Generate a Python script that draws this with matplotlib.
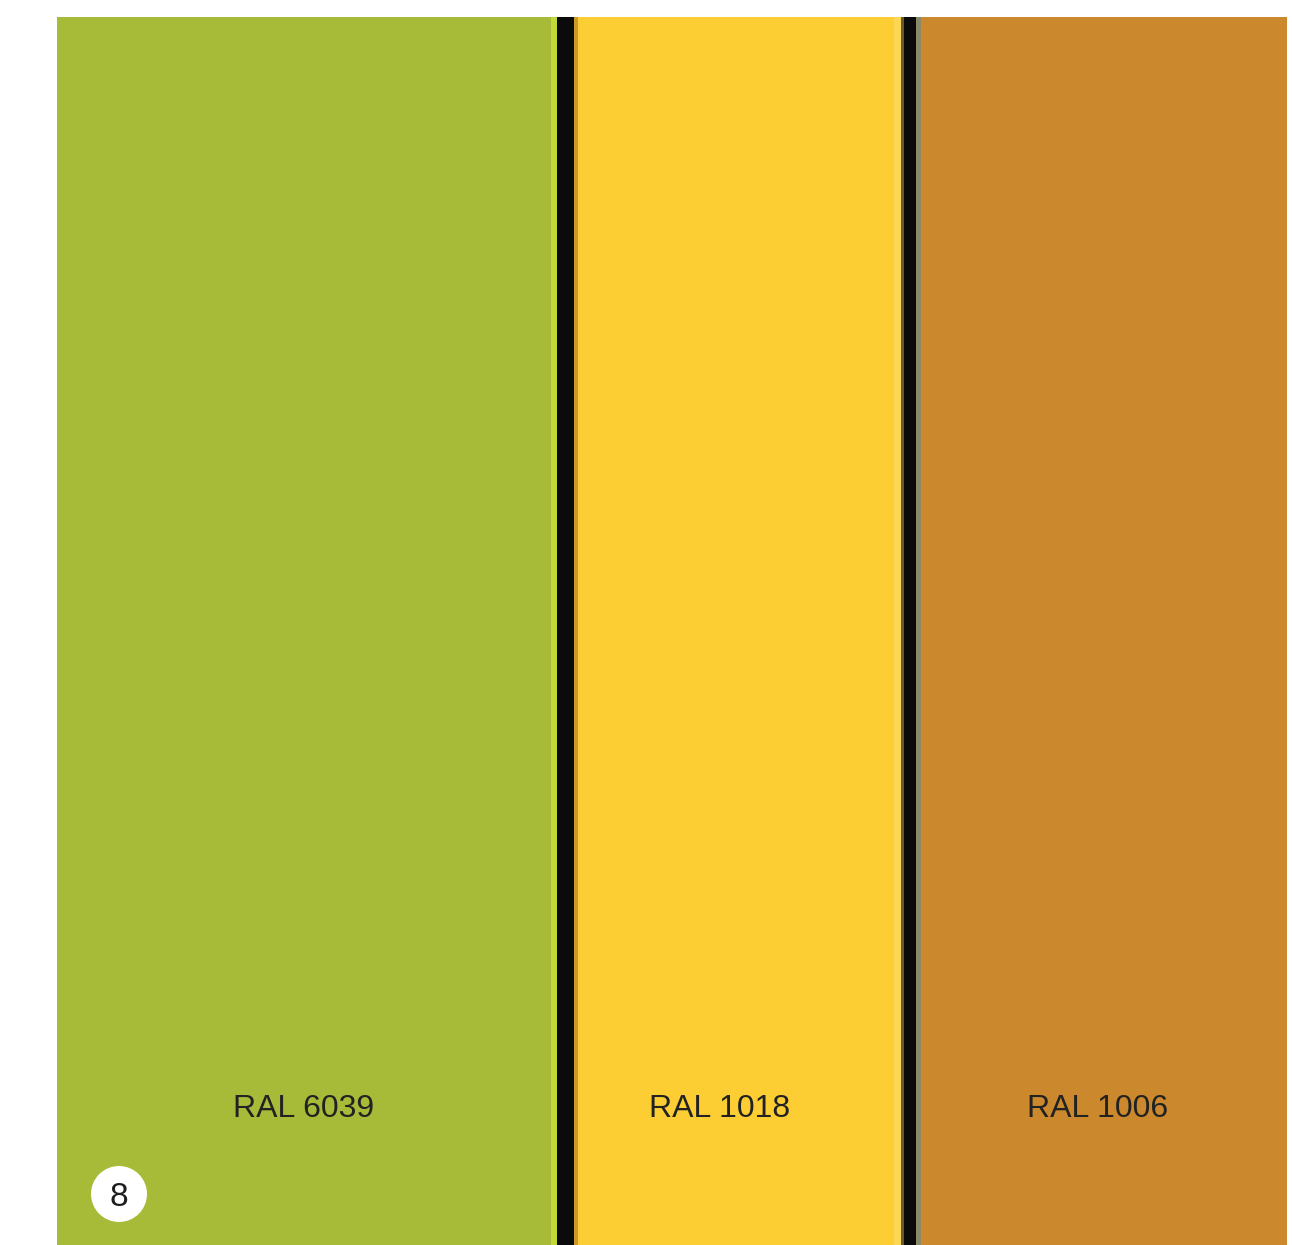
import matplotlib
matplotlib.use("Agg")
import matplotlib.pyplot as plt
from matplotlib.patches import Circle

# Data
labels = ["RAL 6039", "RAL 1018", "RAL 1006"]
colors = ["#A7BB39", "#FDCE34", "#CB882C"]
badge = "8"

# Layout (pixel coordinates)
W, H = 1292, 1245
lefts = [57, 577, 921]
rights = [556, 902, 1287]
top = 17
label_y = 1109
label_x = [304, 720, 1098]

fig = plt.figure(figsize=(W / 100, H / 100), dpi=100)
fig.patch.set_facecolor("white")
ax = fig.add_axes([0, 0, 1, 1])
ax.set_xlim(0, W)
ax.set_ylim(H, 0)
ax.axis("off")

# black background strip for dividers
ax.bar(lefts[0], H - top, width=rights[-1] - lefts[0], bottom=top, align="edge",
       color="#0b0b0b", linewidth=0)

for l, r, c in zip(lefts, rights, colors):
    ax.bar(l, H - top, width=r - l, bottom=top, align="edge", color=c, linewidth=0)

# thin highlights around dividers
ax.bar(551, H - top, width=6, bottom=top, align="edge", color="#C4D83A", linewidth=0)
ax.bar(574, H - top, width=4, bottom=top, align="edge", color="#C99A2A", linewidth=0)
ax.bar(894, H - top, width=7, bottom=top, align="edge", color="#FCD755", linewidth=0)
ax.bar(901, H - top, width=3, bottom=top, align="edge", color="#6A5A2A", linewidth=0)
ax.bar(916, H - top, width=5, bottom=top, align="edge", color="#8A8A68", linewidth=0)

for x, t in zip(label_x, labels):
    ax.text(x, label_y, t, ha="center", va="center", fontsize=23,
            family="Liberation Sans", color="#222222")

ax.add_patch(Circle((119, 1194), 28, facecolor="white", edgecolor="none"))
ax.text(119, 1197, badge, ha="center", va="center", fontsize=24,
        family="Liberation Sans", color="#1e1e1e")

fig.savefig("out.png", dpi=100, facecolor="white")
